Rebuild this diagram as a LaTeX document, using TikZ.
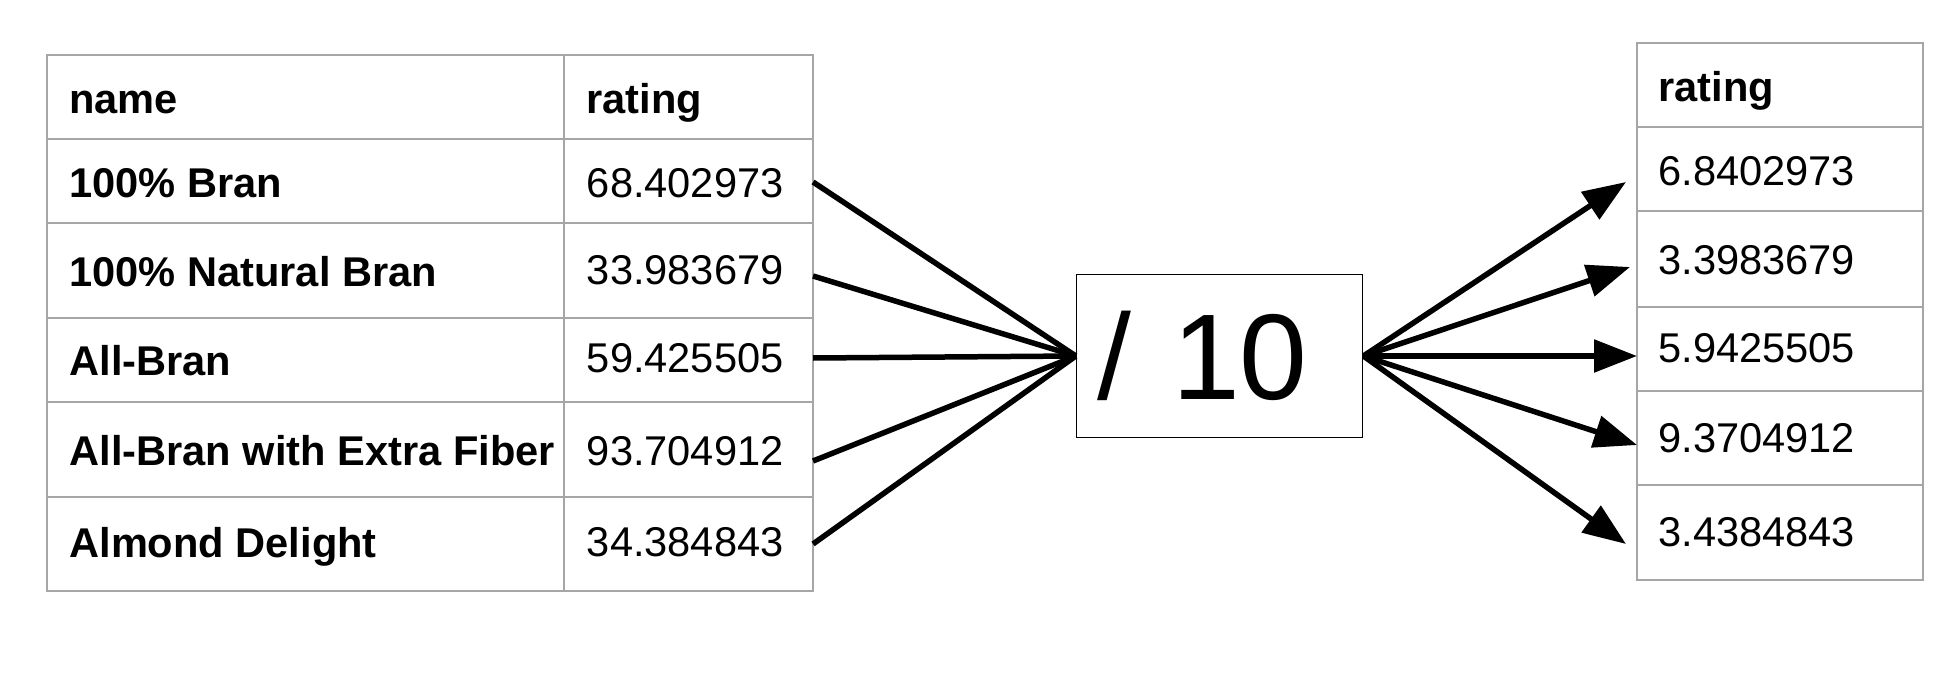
\documentclass[tikz,border=0pt]{standalone}
\usepackage{fontspec}
\setmainfont{Liberation Sans}
\usetikzlibrary{arrows.meta}
\tikzset{
  cellline/.style={draw=black!35, line width=1pt},
  cell/.style={anchor=base west, inner sep=0pt, font=\fontsize{20.8}{24}\selectfont},
  headcell/.style={cell, font=\fontsize{20.8}{24}\selectfont\bfseries},
  opbox/.style={draw, line width=0.8pt, minimum width=143pt, minimum height=81.5pt,
    inner xsep=10.5pt, inner ysep=0pt, text width=122pt, align=left,
    font=\fontsize{61}{70}\selectfont},
  feed/.style={line width=2.75pt},
  result/.style={line width=2.75pt, -{Triangle[length=21.5pt,width=16pt]}},
}

\begin{document}
\begin{tikzpicture}[x=0.5pt,y=-0.5pt]
    \useasboundingbox (0,0) rectangle (1948,674);
    % input table
    \draw[cellline] (47,55) rectangle (812.5,591);
    \draw[cellline] (564.3,55) -- (564.3,591);
    \draw[cellline] (47,139.5) -- (812.5,139.5);
    \draw[cellline] (47,222.5) -- (812.5,222.5);
    \draw[cellline] (47,317.5) -- (812.5,317.5);
    \draw[cellline] (47,402) -- (812.5,402);
    \draw[cellline] (47,496.5) -- (812.5,496.5);
    \node[headcell] (name0) at (69,113) {name};
    \node[headcell] (rate0) at (586,113) {rating};
    \node[headcell] (name1) at (69,198) {100\% Bran};
    \node[cell] (rate1) at (586.5,197) {68.402973};
    \node[headcell] (name2) at (69,286) {100\% Natural Bran};
    \node[cell] (rate2) at (586.5,284.5) {33.983679};
    \node[headcell] (name3) at (69,375) {All-Bran};
    \node[cell] (rate3) at (586.5,372.5) {59.425505};
    \node[headcell] (name4) at (69,465) {All-Bran with Extra Fiber};
    \node[cell] (rate4) at (586.5,465) {93.704912};
    \node[headcell] (name5) at (69,557) {Almond Delight};
    \node[cell] (rate5) at (586.5,556) {34.384843};
    % operation
    \node[opbox] (div) at (1219.6,356) {/ 10};
    \coordinate (in1) at (813,182);
    \coordinate (in2) at (813,276);
    \coordinate (in3) at (813,358);
    \coordinate (in4) at (813,461);
    \coordinate (in5) at (813,544);
    \draw[feed] (in1) -- (div.west);
    \draw[feed] (in2) -- (div.west);
    \draw[feed] (in3) -- (div.west);
    \draw[feed] (in4) -- (div.west);
    \draw[feed] (in5) -- (div.west);
    % output table
    \draw[cellline] (1637.3,43.5) rectangle (1923.3,579.5);
    \draw[cellline] (1637.3,127.5) -- (1923.3,127.5);
    \draw[cellline] (1637.3,211) -- (1923.3,211);
    \draw[cellline] (1637.3,306.5) -- (1923.3,306.5);
    \draw[cellline] (1637.3,390.5) -- (1923.3,390.5);
    \draw[cellline] (1637.3,484.5) -- (1923.3,484.5);
    \node[headcell] (out0) at (1658,102) {rating};
    \node[cell] (out1) at (1658,185) {6.8402973};
    \node[cell] (out2) at (1658,274) {3.3983679};
    \node[cell] (out3) at (1658,362) {5.9425505};
    \node[cell] (out4) at (1658,452) {9.3704912};
    \node[cell] (out5) at (1658,546) {3.4384843};
    \coordinate (tip1) at (1626,182);
    \coordinate (tip2) at (1630,267);
    \coordinate (tip3) at (1637,356);
    \coordinate (tip4) at (1637,445);
    \coordinate (tip5) at (1626,544);
    \draw[result] (div.east) -- (tip1);
    \draw[result] (div.east) -- (tip2);
    \draw[result] (div.east) -- (tip3);
    \draw[result] (div.east) -- (tip4);
    \draw[result] (div.east) -- (tip5);
\end{tikzpicture}
\end{document}
